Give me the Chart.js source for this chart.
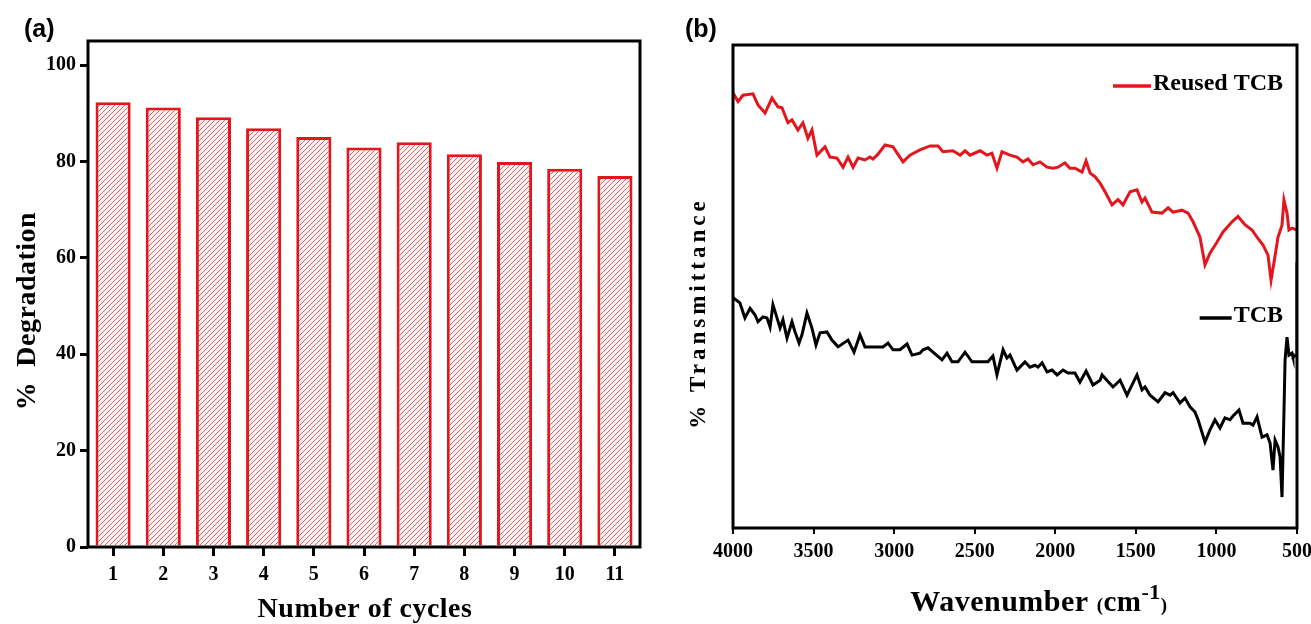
<!DOCTYPE html>
<html>
<head>
<meta charset="utf-8">
<script src="https://cdn.jsdelivr.net/npm/chart.js@4.4.0/dist/chart.umd.min.js"></script>
<style>
    html, body { margin: 0; padding: 0; background: #fff; }
    #wrap { position: relative; width: 1311px; height: 624px; overflow: hidden; }
    .panel { position: absolute; top: 0; height: 624px; }
    #pa { left: 0; width: 660px; }
    #pb { left: 660px; width: 651px; }
    .tag { position: absolute; font: bold 25px 'Liberation Sans', Arial, sans-serif; color: #000; }
</style>
</head>
<body>
<div id="wrap">
    <div class="panel" id="pa"><canvas id="chartA"></canvas></div>
    <div class="panel" id="pb"><canvas id="chartB"></canvas></div>
    <div class="tag" style="left:24px; top:14px">(a)</div>
    <div class="tag" style="left:685px; top:14px">(b)</div>
</div>
<script>
// (a) reuse cycles
const cycles = ['1', '2', '3', '4', '5', '6', '7', '8', '9', '10', '11'];
const degradation = [92.3, 91.2, 89.2, 86.9, 85.1, 82.9, 84.0, 81.5, 79.9, 78.5, 77.0];

// (b) FTIR, wavenumber (cm-1) vs transmittance (arb. units)
const reusedWn = [4000, 3969, 3938, 3876, 3845, 3801, 3758, 3721, 3696, 3659, 3634, 3597, 3566, 3535, 3510,
    3479, 3429, 3398, 3355, 3317, 3286, 3255, 3224, 3181, 3150, 3131, 3100, 3057, 3007, 2945, 2902, 2840,
    2777, 2728, 2697, 2635, 2591, 2560, 2529, 2467, 2424, 2393, 2362, 2331, 2281, 2238, 2200, 2169, 2138,
    2095, 2051, 2014, 1983, 1940, 1909, 1878, 1834, 1809, 1784, 1753, 1722, 1691, 1648, 1611, 1580, 1536,
    1493, 1462, 1443, 1400, 1338, 1300, 1269, 1214, 1176, 1145, 1102, 1071, 1040, 996, 959, 903, 866, 823,
    779, 748, 711, 680, 661, 643, 618, 593, 581, 562, 550, 531, 500];
const reusedT = [90.1, 88.3, 89.6, 89.9, 87.6, 85.9, 89.0, 87.2, 87.0, 83.9, 84.5, 82.4, 83.9, 80.7, 82.4,
    77.2, 78.9, 76.8, 76.6, 74.7, 76.8, 74.7, 76.6, 76.2, 76.8, 76.4, 77.4, 79.3, 78.9, 75.8, 77.2, 78.3,
    79.1, 79.1, 77.9, 78.1, 77.2, 78.1, 77.2, 78.1, 77.2, 77.6, 74.5, 77.9, 77.2, 76.8, 75.8, 76.4, 75.2,
    75.8, 74.7, 74.5, 74.7, 75.6, 74.5, 74.5, 73.7, 76.0, 73.5, 72.7, 71.4, 69.6, 66.9, 68.0, 66.9, 69.6,
    70.0, 67.5, 68.3, 65.4, 65.2, 66.3, 65.4, 65.8, 65.2, 63.4, 60.2, 54.5, 56.9, 59.2, 61.3, 63.4, 64.5, 62.8,
    61.7, 60.2, 58.6, 56.5, 51.3, 54.9, 60.2, 62.7, 67.9, 65.2, 61.7, 62.1, 61.7];

const tcbWn = [4000, 3957, 3926, 3894, 3863, 3845, 3814, 3789, 3770, 3752, 3727, 3708, 3690, 3665, 3634,
    3615, 3590, 3572, 3541, 3510, 3485, 3460, 3417, 3386, 3348, 3286, 3249, 3212, 3181, 3106, 3069, 3038,
    3007, 2964, 2920, 2889, 2840, 2821, 2790, 2759, 2703, 2672, 2641, 2604, 2560, 2517, 2467, 2418, 2387,
    2362, 2324, 2300, 2281, 2238, 2188, 2157, 2126, 2107, 2082, 2051, 2020, 1989, 1952, 1921, 1878, 1847,
    1809, 1766, 1722, 1710, 1642, 1598, 1555, 1493, 1462, 1443, 1412, 1362, 1319, 1288, 1269, 1226, 1195,
    1164, 1133, 1114, 1071, 1040, 1009, 978, 947, 916, 897, 860, 835, 792, 773, 748, 717, 686, 667, 649,
    636, 618, 605, 593, 581, 574, 562, 550, 531, 525, 500, 500];
const tcbT = [47.7, 46.6, 43.5, 45.5, 44.1, 42.7, 43.7, 43.5, 41.6, 46.2, 43.5, 41.4, 43.1, 39.3, 42.7,
    40.6, 38.3, 40.0, 44.5, 41.4, 37.9, 40.4, 40.6, 38.9, 37.5, 38.9, 36.4, 40.0, 37.5, 37.5, 37.5, 38.3,
    36.9, 36.9, 38.1, 35.8, 36.2, 36.9, 37.3, 36.4, 34.8, 36.2, 34.4, 34.4, 36.4, 34.4, 34.4, 34.4, 35.6,
    31.7, 36.9, 35.2, 35.8, 32.7, 34.4, 33.3, 33.7, 33.3, 34.2, 32.3, 32.7, 31.7, 32.7, 32.1, 32.1, 30.2,
    32.5, 29.6, 30.6, 31.7, 29.2, 30.6, 27.5, 31.7, 28.6, 29.2, 27.5, 26.1, 28.0, 27.5, 28.0, 25.9, 26.9,
    25.1, 24.0, 22.4, 17.8, 20.3, 22.4, 20.7, 22.8, 22.4, 23.2, 24.4, 21.7, 21.7, 21.3, 23.0, 18.8, 19.3, 17.6,
    12.0, 18.2, 16.8, 14.7, 6.4, 23.8, 34.8, 39.5, 35.8, 36.2, 35.4, 35.8, 55.0];

const wnTicks = [4000, 3500, 3000, 2500, 2000, 1500, 1000, 500];

const SERIF = "'Liberation Serif', 'Times New Roman', 'DejaVu Serif', serif";
const RED = '#e3161d';
const tickFont = { family: SERIF, weight: 'bold', size: 20 };

// hachures diagonais das barras
function hatchPattern() {
    const c = document.createElement('canvas');
    c.width = 5; c.height = 5;
    const g = c.getContext('2d');
    g.fillStyle = '#fff2f2';
    g.fillRect(0, 0, 5, 5);
    g.strokeStyle = '#d4686c';
    g.lineWidth = 1;
    g.beginPath();
    g.moveTo(-1, 6); g.lineTo(6, -1);
    g.moveTo(-1, 1); g.lineTo(1, -1);
    g.moveTo(4, 6); g.lineTo(6, 4);
    g.stroke();
    return g.createPattern(c, 'repeat');
}

const framePlugin = {
    id: 'frame',
    afterDatasetsDraw(chart) {
        const { ctx, chartArea: a } = chart;
        ctx.save();
        ctx.strokeStyle = '#000';
        ctx.lineWidth = 3;
        ctx.strokeRect(a.left, a.top, a.right - a.left, a.bottom - a.top);
        ctx.restore();
    }
};

// titulos dos eixos (com espacamento e sobrescrito)
const titlesPlugin = {
    id: 'titles',
    afterDraw(chart, args, opts) {
        const ctx = chart.ctx;
        (opts.items || []).forEach(t => {
            ctx.save();
            ctx.translate(t.x, t.y);
            ctx.rotate(t.rot || 0);
            ctx.fillStyle = '#000';
            ctx.textBaseline = 'alphabetic';
            ctx.textAlign = 'left';
            ctx.letterSpacing = t.spacing || '0px';
            let total = 0;
            t.parts.forEach(p => {
                ctx.font = `bold ${p.size}px ${SERIF}`;
                p.w = ctx.measureText(p.text).width;
                total += p.w;
            });
            let cx = -total / 2;
            t.parts.forEach(p => {
                ctx.font = `bold ${p.size}px ${SERIF}`;
                ctx.fillText(p.text, cx, p.dy || 0);
                cx += p.w;
            });
            ctx.restore();
        });
    }
};

const legendPlugin = {
    id: 'sideLegend',
    afterDraw(chart, args, opts) {
        const { ctx, chartArea: a } = chart;
        (opts.items || []).forEach(it => {
            ctx.save();
            ctx.font = `bold 24px ${SERIF}`;
            ctx.fillStyle = '#000';
            ctx.textAlign = 'right';
            ctx.textBaseline = 'middle';
            const xr = a.right - 14;
            const y = a.top + it.dy;
            const w = ctx.measureText(it.label).width;
            ctx.fillText(it.label, xr, y);
            ctx.strokeStyle = it.color;
            ctx.lineWidth = 3.5;
            ctx.beginPath();
            ctx.moveTo(xr - w - 2, y + 2);
            ctx.lineTo(xr - w - 2 - it.len, y + 2);
            ctx.stroke();
            ctx.restore();
        });
    }
};

new Chart(document.getElementById('chartA'), {
    type: 'bar',
    data: {
        labels: cycles,
        datasets: [{
            data: degradation,
            backgroundColor: hatchPattern(),
            borderColor: RED,
            borderWidth: 3,
            barPercentage: 0.7,
            categoryPercentage: 1.0
        }]
    },
    options: {
        responsive: true,
        maintainAspectRatio: false,
        animation: false,
        events: [],
        layout: { padding: { top: 41, right: 20, left: 0, bottom: 0 } },
        plugins: {
            legend: { display: false },
            tooltip: { enabled: false },
            titles: {
                items: [
                    { x: 365, y: 617, spacing: '0.5px', parts: [{ text: 'Number of cycles', size: 28 }] },
                    { x: 35, y: 311, rot: -Math.PI / 2, spacing: '0.5px', parts: [{ text: '%  Degradation', size: 28 }] }
                ]
            }
        },
        scales: {
            x: {
                grid: { offset: false, drawOnChartArea: false, color: '#000', lineWidth: 3, tickLength: 9 },
                border: { display: false },
                ticks: { color: '#000', font: tickFont, padding: 7 },
                afterFit: s => { s.height = 77; s.paddingLeft = 0; s.paddingRight = 0; }
            },
            y: {
                min: 0, max: 105,
                grid: { drawOnChartArea: false, color: '#000', lineWidth: 3, tickLength: 8 },
                border: { display: false },
                ticks: { stepSize: 20, includeBounds: false, color: '#000', font: tickFont, padding: 4 },
                afterFit: s => { s.width = 88; s.paddingTop = 0; s.paddingBottom = 0; }
            }
        }
    },
    plugins: [framePlugin, titlesPlugin]
});

new Chart(document.getElementById('chartB'), {
    type: 'line',
    data: {
        datasets: [
            {
                label: 'Reused TCB',
                data: reusedWn.map((w, i) => ({ x: w, y: reusedT[i] })),
                borderColor: RED,
                borderWidth: 3,
                pointRadius: 0,
                fill: false
            },
            {
                label: 'TCB',
                data: tcbWn.map((w, i) => ({ x: w, y: tcbT[i] })),
                borderColor: '#000',
                borderWidth: 3,
                pointRadius: 0,
                fill: false
            }
        ]
    },
    options: {
        responsive: true,
        maintainAspectRatio: false,
        animation: false,
        events: [],
        layout: { padding: { top: 45, right: 14, left: 0, bottom: 0 } },
        plugins: {
            legend: { display: false },
            tooltip: { enabled: false },
            sideLegend: {
                items: [
                    { label: 'Reused TCB', color: RED, dy: 39, len: 38 },
                    { label: 'TCB', color: '#000', dy: 271, len: 32 }
                ]
            },
            titles: {
                items: [
                    {
                        x: 379, y: 611, spacing: '0.5px', parts: [
                            { text: 'Wavenumber ', size: 30 },
                            { text: '(', size: 19 },
                            { text: 'cm', size: 29 },
                            { text: '-1', size: 22, dy: -12 },
                            { text: ')', size: 19 }
                        ]
                    },
                    { x: 45, y: 313, rot: -Math.PI / 2, spacing: '4px', parts: [{ text: '% Transmittance', size: 23 }] }
                ]
            }
        },
        scales: {
            x: {
                type: 'linear',
                reverse: true,
                min: 500, max: 4000,
                afterBuildTicks: s => { s.ticks = wnTicks.map(v => ({ value: v })); },
                grid: { drawOnChartArea: false, color: '#000', lineWidth: 2, tickLength: 6 },
                border: { display: false },
                ticks: { color: '#000', font: tickFont, padding: 6, maxRotation: 0, callback: v => String(v) },
                afterFit: s => { s.height = 96; s.paddingLeft = 0; s.paddingRight = 0; }
            },
            y: {
                min: 0, max: 100,
                grid: { display: false },
                border: { display: false },
                ticks: { display: false },
                afterFit: s => { s.width = 73; s.paddingTop = 0; s.paddingBottom = 0; }
            }
        }
    },
    plugins: [framePlugin, titlesPlugin, legendPlugin]
});
</script>
</body>
</html>
